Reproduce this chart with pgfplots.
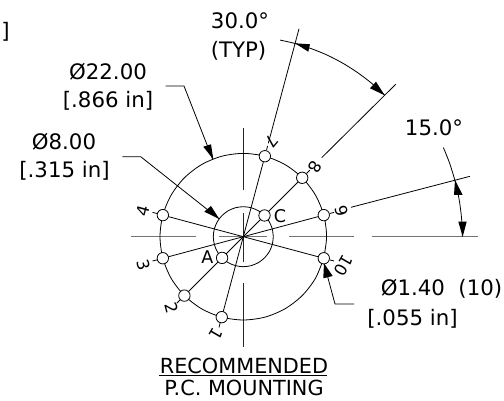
\documentclass[border=0pt]{standalone}
\usepackage{fontspec}
\setmainfont{DejaVu Sans}
\usepackage{pgfplots}
\pgfplotsset{compat=1.18}
\newcommand{\lbl}{\fontsize{21.3}{24}\selectfont}
\newcommand{\pin}{\fontsize{16.5}{18}\selectfont}
\begin{document}
\begin{tikzpicture}
\begin{axis}[
scale only axis,
width=504pt,
height=401pt,
xmin=-243.3,
xmax=260.7,
ymin=-164.3,
ymax=236.7,
hide axis,
clip=false,
no markers,
cycle list={{black,solid}},
every axis plot/.append style={line width=0.8pt},
unbounded coords=jump
]

% keeps the page at the full frame
\addplot [draw=none] coordinates {(-243.3,-164.3) (260.7,236.7)};

% centre lines
\addplot [gray!90!black,line width=1pt] coordinates {(-112.3,0) (-47.3,0) (nan,nan) (-24,0) (24,0) (nan,nan) (46,0) (111,0) (nan,nan) (129,0) (235,0)};
\addplot [black!85] coordinates {(0,109) (0,46.7) (nan,nan) (0,23.4) (0,-25) (nan,nan) (0,-46.6) (0,-110.6)};

% pitch circles
\addplot [black,smooth] coordinates {
(80.46,-21.56) (83.3,0) (80.46,21.56) (72.14,41.65) (58.9,58.9) (41.65,72.14) (21.56,80.46) (0,83.3)
(-21.56,80.46) (-41.65,72.14) (-58.9,58.9) (-72.14,41.65) (-80.46,21.56) (-83.3,0)
(-80.46,-21.56) (-72.14,-41.65) (-58.9,-58.9) (-41.65,-72.14) (-21.56,-80.46) (0,-83.3)
(21.56,-80.46) (41.65,-72.14) (58.9,-58.9) (72.14,-41.65) (80.46,-21.56)};
\addplot [black,smooth] coordinates {
(30,0) (28.98,7.76) (25.98,15) (21.21,21.21) (15,25.98) (7.76,28.98) (0,30)
(-7.76,28.98) (-15,25.98) (-21.21,21.21) (-25.98,15) (-28.98,7.76) (-30,0)
(-28.98,-7.76) (-25.98,-15) (-21.21,-21.21) (-15,-25.98) (-7.76,-28.98) (0,-30)
(7.76,-28.98) (15,-25.98) (21.21,-21.21) (25.98,-15) (28.98,-7.76) (30,0)};

% spokes through the centre
\addplot coordinates {(80.46,21.56) (-80.46,-21.56)};
\addplot coordinates {(58.9,58.9) (-58.9,-58.9)};
\addplot coordinates {(21.56,80.46) (-21.56,-80.46)};
\addplot coordinates {(-80.46,21.56) (80.46,-21.56)};

% extension lines
\addplot coordinates {(25,93.4) (55.7,207.9)};
\addplot coordinates {(78.4,79) (152.4,152.4)};
\addplot coordinates {(107.7,29.4) (226.7,60.4)};

% stubs from the holes to the pin numbers
\addplot coordinates {(86.4,23.2) (90.8,24.3) (nan,nan) (63.3,63.3) (66.5,66.5) (nan,nan) (23.2,86.4) (24.3,90.8) (nan,nan)
(-86.4,23.2) (-90.8,24.3) (nan,nan) (-86.4,-23.2) (-90.8,-24.3) (nan,nan) (-63.3,-63.3) (-66.5,-66.5) (nan,nan)
(-23.2,-86.4) (-24.3,-90.8) (nan,nan) (86.4,-23.2) (90.8,-24.3)};

% dimension arcs
\addplot [black,smooth] coordinates {(36.8,196.6) (51.76,193.2) (68.4,187.9) (84.5,181.3) (100,173.2) (114.7,163.8) (128.6,153.2) (141.4,141.4)};
\addplot [black,smooth] coordinates {(200.1,89.1) (205.8,74.9) (211.5,56.7) (215.7,38) (218.2,19.1) (219,0)};

% leaders
\addplot coordinates {(-77.6,150.7) (-59.3,150.7) (-30.6,77.4)};
\addplot coordinates {(-121,80) (-102.6,80) (-24,17.7)};
\addplot coordinates {(110.7,-67.3) (91.7,-67.3) (80.7,-26.6)};
\addplot coordinates {(-84.3,-139) (83.7,-139)};

% arrowheads
\addplot [fill=black,draw=none] coordinates {(51.7,193.4) (66.7,192.4) (65,185) (51.7,193.4)};
\addplot [fill=black,draw=none] coordinates {(141.4,141.4) (132.7,155) (126.7,148.4) (141.4,141.4)};
\addplot [fill=black,draw=none] coordinates {(211.7,56.7) (210.7,41.7) (219.4,41.7) (211.7,56.7)};
\addplot [fill=black,draw=none] coordinates {(219.4,0) (215,15) (223.4,15) (219.4,0)};
\addplot [fill=black,draw=none] coordinates {(-30,77.4) (-40,90) (-32.3,92.4) (-30,77.4)};
\addplot [fill=black,draw=none] coordinates {(-24,17.7) (-39,25) (-32.3,30.7) (-24,17.7)};
\addplot [fill=black,draw=none] coordinates {(80.7,-26.6) (80,-41.6) (89.4,-39.3) (80.7,-26.6)};

% holes
\addplot [only marks,mark=*,mark size=5.7pt,mark options={fill=white,draw=black,line width=0.8pt}] coordinates {
(80.46,21.56) (58.9,58.9) (21.56,80.46) (-80.46,21.56) (-80.46,-21.56) (-58.9,-58.9) (-21.56,-80.46) (80.46,-21.56) (21.21,21.21) (-21.21,-21.21)};

% text
\tikzset{every node/.style={inner sep=0pt,anchor=center,text=black}}
\node at (axis cs:-3.3,215.7) {\lbl 30.0°};
\node at (axis cs:-4.8,185.7) {\lbl (TYP)};
\node at (axis cs:-135.3,164.7) {\lbl Ø22.00};
\node at (axis cs:-135.3,135.7) {\lbl [.866 in]};
\node at (axis cs:-179.3,94.7) {\lbl Ø8.00};
\node at (axis cs:-178.8,65.7) {\lbl [.315 in]};
\node at (axis cs:-237.8,204.7) {\lbl ]};
\node at (axis cs:190.7,108.7) {\lbl 15.0°};
\node at (axis cs:198.2,-52.3) {\lbl Ø1.40\ \ (10)};
\node at (axis cs:169.2,-82.3) {\lbl [.055 in]};
\node at (axis cs:0.7,-129.3) {\fontsize{20.8}{24}\selectfont RECOMMENDED};
\node at (axis cs:0.7,-151.3) {\fontsize{20.8}{24}\selectfont P.C. MOUNTING};
\node at (axis cs:-36,-20.6) {\fontsize{17.5}{20}\selectfont A};
\node at (axis cs:36.7,20.7) {\fontsize{17.5}{20}\selectfont C};

\node[rotate=-120] at (axis cs:-27.3,-97.3) {\pin 1};
\node[rotate=-75] at (axis cs:-71.6,-71.6) {\pin 2};
\node[rotate=-75] at (axis cs:-100,-28.3) {\pin 3};
\node[rotate=75] at (axis cs:-100,25.7) {\pin 4};
\node[rotate=-130] at (axis cs:28.4,95) {\pin 7};
\node[rotate=-120] at (axis cs:71.7,70) {\pin 8};
\node[rotate=-75] at (axis cs:98.4,25.7) {\pin 9};
\node[rotate=-120] at (axis cs:100,-29) {\pin 10};
\end{axis}
\end{tikzpicture}
\end{document}
